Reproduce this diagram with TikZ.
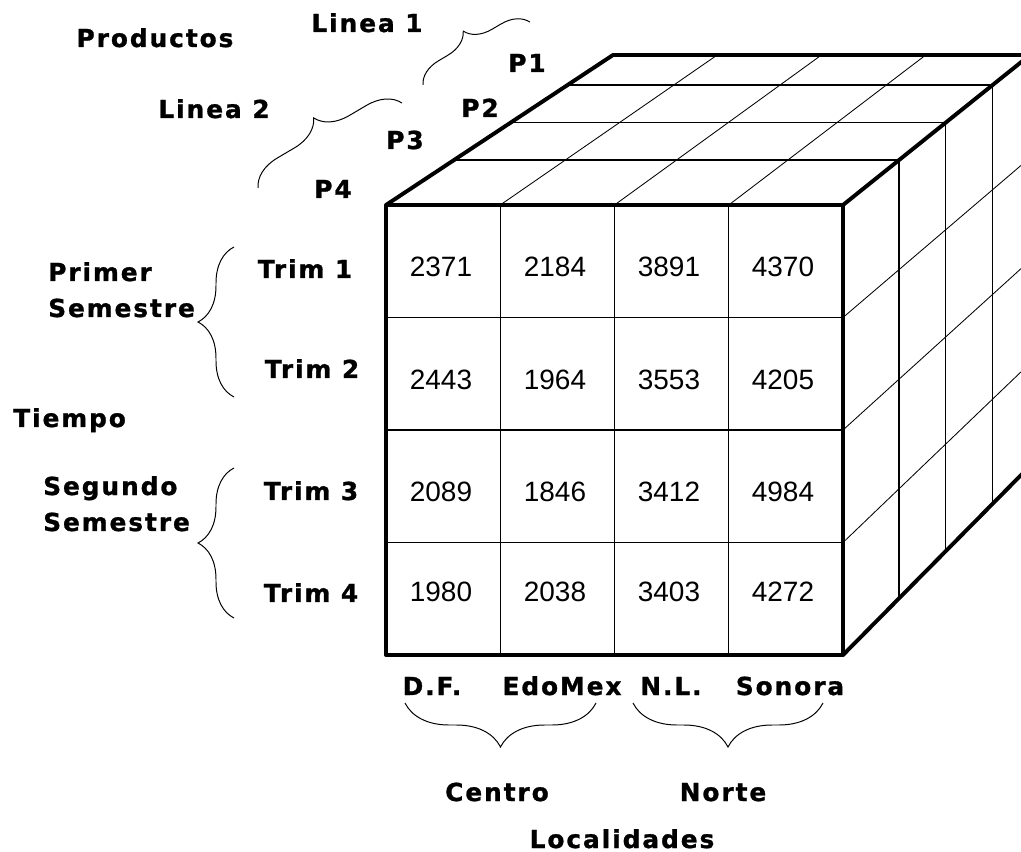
\documentclass[tikz,border=0pt]{standalone}
\usepackage{fontspec}
\setmainfont{Liberation Sans}
\newfontfamily\labelfont[LetterSpace=8, FakeBold=1.2]{DejaVu Sans}
\usetikzlibrary{calc, decorations.pathreplacing}

\tikzset{
  lbl/.style={font=\labelfont\bfseries\fontsize{17.6}{25.6}\selectfont,
              inner sep=0pt, anchor=base},
  num/.style={font=\fontsize{19.9}{24}\selectfont, inner sep=0pt, anchor=base},
  edge/.style={line width=2.8pt, line join=round},
  grid/.style={line width=0.9pt},
  fine/.style={line width=0.6pt},
  brc/.style={line width=0.7pt, decorate, decoration={brace, amplitude=#1}}
}

\begin{document}
\begin{tikzpicture}[x=0.025cm, y=-0.025cm]
  \clip (0,0) rectangle (1021,852);

  % corners of the cube
  \coordinate (ftl) at (386,205);
  \coordinate (ftr) at (843,205);
  \coordinate (fbl) at (386,655);
  \coordinate (fbr) at (843,655);
  \coordinate (btl) at (613,55);
  \coordinate (btr) at (1030,55);
  \coordinate (bbr) at (1030,466);

  % top face: products and locations
  \foreach \t in {0.3,0.55,0.8}
    \draw[grid] ($(ftl)!\t!(btl)$) -- ($(ftr)!\t!(btr)$);
  \foreach \k in {1,2,3}
    \draw[fine] ($(ftl)!\k/4!(ftr)$) -- ($(btl)!\k/4!(btr)$);

  % right face: products and quarters
  \foreach \t in {0.3,0.55,0.8}
    \draw[grid] ($(ftr)!\t!(btr)$) -- ($(fbr)!\t!(bbr)$);
  \foreach \k in {1,2,3}
    \draw[fine] ($(ftr)!\k/4!(fbr)$) -- ($(btr)!\k/4!(bbr)$);

  % front face grid
  \foreach \k in {1,2,3} {
    \draw[grid] ($(ftl)!\k/4!(ftr)$) -- ($(fbl)!\k/4!(fbr)$);
    \draw[grid] ($(ftl)!\k/4!(fbl)$) -- ($(ftr)!\k/4!(fbr)$);
  }

  % outline
  \draw[edge] (ftl) rectangle (fbr);
  \draw[edge] (ftl) -- (btl) -- (btr);
  \draw[edge] (ftr) -- (btr);
  \draw[edge] (fbr) -- (bbr);

  % sales values
  \foreach \y/\a/\b/\c/\d [count=\r] in
      {277/2371/2184/3891/4370, 390/2443/1964/3553/4205,
       502/2089/1846/3412/4984, 602/1980/2038/3403/4272} {
    \node[num] (v\r a) at (441,\y) {\a};
    \node[num] (v\r b) at (555,\y) {\b};
    \node[num] (v\r c) at (669,\y) {\c};
    \node[num] (v\r d) at (783,\y) {\d};
  }

  % products
  \node[lbl] (prod) at (155,47) {Productos};
  \node[lbl] (lin1) at (367,32) {Linea 1};
  \node[lbl] (lin2) at (214,118) {Linea 2};
  \node[lbl] (p1) at (527,72) {P1};
  \node[lbl] (p2) at (480,117) {P2};
  \node[lbl] (p3) at (405,149) {P3};
  \node[lbl] (p4) at (333,198) {P4};

  \coordinate (l1a) at (423,85);
  \coordinate (l1b) at (530,22);
  \coordinate (l2a) at (258,188);
  \coordinate (l2b) at (402,103);
  \draw[brc=0.65cm] (l1a) -- (l1b);
  \draw[brc=0.8cm] (l2a) -- (l2b);

  % time
  \node[lbl] (tr1) at (305,278) {Trim 1};
  \node[lbl] (tr2) at (312,378) {Trim 2};
  \node[lbl] (tr3) at (311,500) {Trim 3};
  \node[lbl] (tr4) at (311,602) {Trim 4};
  \node[lbl, anchor=base west, align=left] (sem1) at (48,317)
        {Primer\\Semestre};
  \node[lbl, anchor=base west, align=left] (sem2) at (43,531)
        {Segundo\\Semestre};
  \node[lbl, anchor=base west] (tiempo) at (13,427) {Tiempo};

  \coordinate (s1a) at (234,397);
  \coordinate (s1b) at (234,247);
  \coordinate (s2a) at (234,618);
  \coordinate (s2b) at (234,468);
  \draw[brc=0.9cm] (s1a) -- (s1b);
  \draw[brc=0.9cm] (s2a) -- (s2b);

  % locations
  \node[lbl] (df) at (432,695) {D.F.};
  \node[lbl] (edomex) at (562,695) {EdoMex};
  \node[lbl] (nl) at (671,695) {N.L.};
  \node[lbl] (son) at (790,695) {Sonora};
  \node[lbl] (centro) at (497,801) {Centro};
  \node[lbl] (norte) at (723,801) {Norte};
  \node[lbl] (loc) at (622,848) {Localidades};

  \coordinate (rca) at (596,703);
  \coordinate (rcb) at (405,703);
  \coordinate (rna) at (823,703);
  \coordinate (rnb) at (633,703);
  \draw[brc=1.1cm] (rca) -- (rcb);
  \draw[brc=1.1cm] (rna) -- (rnb);
\end{tikzpicture}
\end{document}
